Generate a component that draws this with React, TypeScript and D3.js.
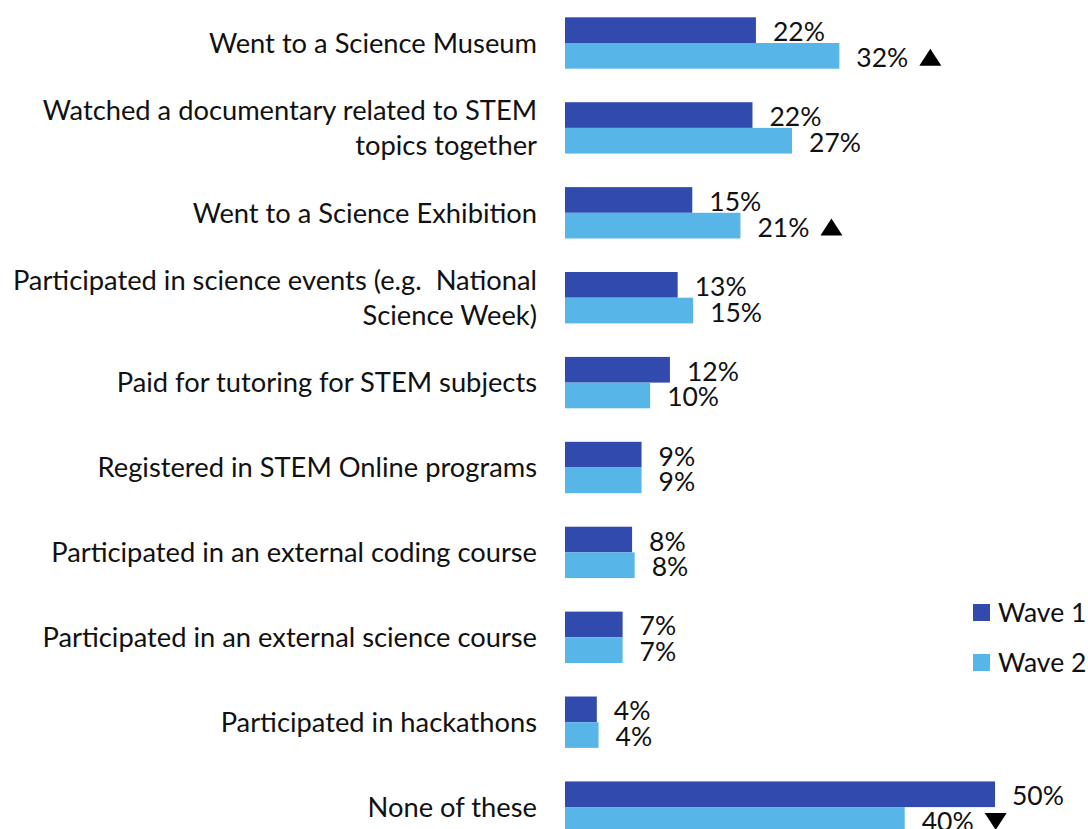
import React from "react";
import * as d3 from "d3";

const categories: string[] = [
  "Went to a Science Museum",
  "Watched a documentary related to STEM\ntopics together",
  "Went to a Science Exhibition",
  "Participated in science events (e.g.  National\nScience Week)",
  "Paid for tutoring for STEM subjects",
  "Registered in STEM Online programs",
  "Participated in an external coding course",
  "Participated in an external science course",
  "Participated in hackathons",
  "None of these",
];

const seriesNames: string[] = ["Wave 1", "Wave 2"];

const wave1: number[] = [22.2, 21.8, 14.8, 13.1, 12.2, 8.9, 7.8, 6.7, 3.7, 50.0];
const wave2: number[] = [31.9, 26.4, 20.4, 14.9, 9.9, 8.9, 8.1, 6.7, 3.9, 39.5];

const wave1Labels: string[] = ["22%", "22%", "15%", "13%", "12%", "9%", "8%", "7%", "4%", "50%"];
const wave2Labels: string[] = ["32%", "27%", "21%", "15%", "10%", "9%", "8%", "7%", "4%", "40%"];

// significance marker for Wave 2: "up", "down" or ""
const wave2Sig: string[] = ["up", "", "up", "", "", "", "", "", "", "down"];

const colors: string[] = ["#304AAD", "#57B5E8"];

const W = 1088;
const H = 829;
const FONT = "Lato, 'Open Sans', sans-serif";
const FS_CAT = 27.3;
const FS_VAL = 26.5;

let measureCtx: CanvasRenderingContext2D | null = null;
function textWidth(t: string, size: number): number {
  if (typeof document === "undefined") return t.length * size * 0.55;
  if (!measureCtx) {
    const c = document.createElement("canvas");
    measureCtx = c.getContext("2d");
  }
  if (!measureCtx) return t.length * size * 0.55;
  measureCtx.font = `${size}px Lato, 'Open Sans', sans-serif`;
  return measureCtx.measureText(t).width;
}

export default function App() {
  const x = d3.scaleLinear().domain([0, 50]).range([565, 995]);
  const y0 = d3
    .scaleBand<string>()
    .domain(categories)
    .range([0.55, 849.55])
    .paddingInner(0.395)
    .paddingOuter(0.1975);
  const y1 = d3
    .scaleBand<string>()
    .domain(seriesNames)
    .range([0, y0.bandwidth()]);

  const series = [
    { name: seriesNames[0], values: wave1, labels: wave1Labels, sig: categories.map(() => "") },
    { name: seriesNames[1], values: wave2, labels: wave2Labels, sig: wave2Sig },
  ];

  const lineH = 34.5;
  const capCat = FS_CAT * 0.72;
  const capVal = FS_VAL * 0.72;

  const tri = (cx: number, cy: number, dir: string) => {
    const w = 22;
    const h = 17;
    if (dir === "up") {
      return `M${cx - w / 2},${cy + h / 2}L${cx + w / 2},${cy + h / 2}L${cx},${cy - h / 2}Z`;
    }
    return `M${cx - w / 2},${cy - h / 2}L${cx + w / 2},${cy - h / 2}L${cx},${cy + h / 2}Z`;
  };

  return (
    <svg
      width={W}
      height={H}
      style={{ position: "absolute", left: 0, top: 0, display: "block", background: "#fff" }}
      fontFamily={FONT}
    >
      <rect x={0} y={0} width={W} height={H} fill="#fff" />
      {/* category labels */}
      {categories.map((c) => {
        const lines = c.split("\n");
        const cy = (y0(c) as number) + y0.bandwidth() / 2;
        const firstBase = cy - ((lines.length - 1) * lineH) / 2 + capCat / 2;
        return (
          <text key={c} x={537} textAnchor="end" fontSize={FS_CAT} fill="#111">
            {lines.map((l, i) => (
              <tspan key={i} x={537} y={firstBase + i * lineH} style={{ whiteSpace: "pre" }}>
                {l}
              </tspan>
            ))}
          </text>
        );
      })}
      {/* bars */}
      {series.map((s, si) => (
        <g key={s.name}>
          {categories.map((c, i) => {
            const yy = (y0(c) as number) + (y1(s.name) as number);
            const bh = y1.bandwidth();
            const xe = x(s.values[i]);
            return <rect key={c} x={x(0)} y={yy} width={xe - x(0)} height={bh} fill={colors[si]} />;
          })}
        </g>
      ))}
      {/* value labels */}
      {series.map((s, si) => (
        <g key={s.name + "-lab"}>
          {categories.map((c, i) => {
            const yy = (y0(c) as number) + (y1(s.name) as number);
            const bh = y1.bandwidth();
            const xe = x(s.values[i]);
            const base = yy + bh / 2 + 11;
            const labelX = xe + 17;
            const labelW = textWidth(s.labels[i], FS_VAL);
            return (
              <g key={c}>
                <text x={labelX} y={base} fontSize={FS_VAL} fill="#111">
                  {s.labels[i]}
                </text>
                {s.sig[i] ? (
                  <path d={tri(labelX + labelW + 22, base - capVal / 2, s.sig[i])} fill="#000" />
                ) : null}
              </g>
            );
          })}
        </g>
      ))}
      {/* legend */}
      {seriesNames.map((n, i) => (
        <g key={n} transform={`translate(973,${604 + i * 50})`}>
          <rect x={0} y={0} width={17} height={17} fill={colors[i]} />
          <text x={25} y={8.5 + capVal / 2} fontSize={FS_VAL} fill="#111">
            {n}
          </text>
        </g>
      ))}
    </svg>
  );
}
